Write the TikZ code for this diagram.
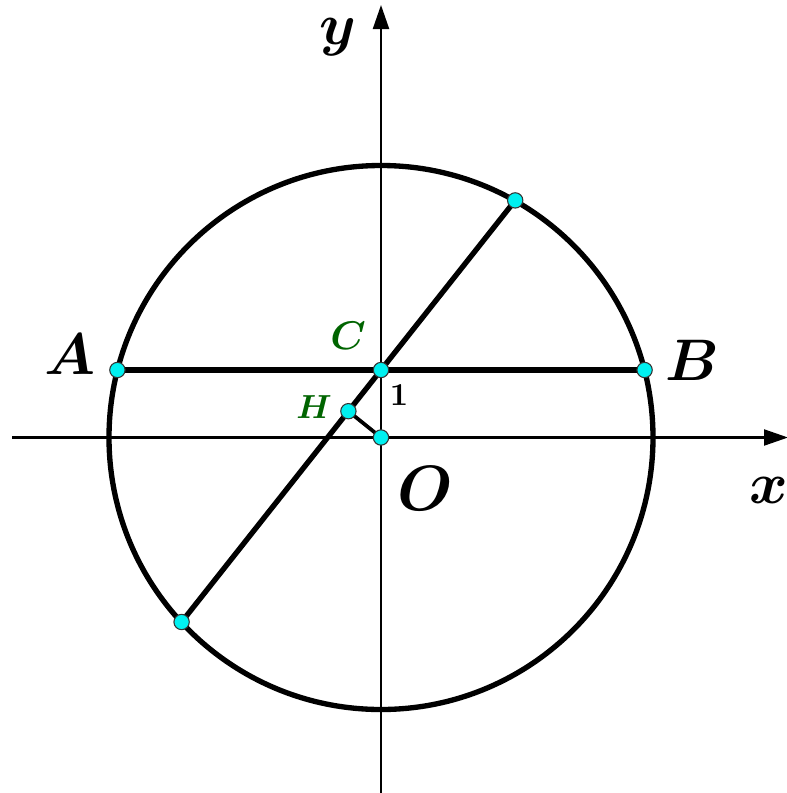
\documentclass[tikz,border=0pt]{standalone}
\usepackage{amsmath,bm}
\usetikzlibrary{arrows.meta,calc,intersections}
\definecolor{ptfill}{RGB}{0,240,240}
\definecolor{lblgreen}{RGB}{0,100,0}
\tikzset{
  axis/.style={line width=1.6pt,-{Triangle[length=18pt,width=12pt]}},
  thick line/.style={line width=4pt},
  pt/.style={circle,fill=ptfill,draw=black!80,line width=0.8pt,inner sep=0pt,minimum size=11.5pt},
  lbl/.style={inner sep=0pt},
  biglbl/.style={lbl,scale=4.4},
  grnlbl/.style={lbl,text=lblgreen},
}
\begin{document}
\begin{tikzpicture}[x=0.75pt,y=-0.75pt]
\useasboundingbox (0,0) rectangle (787,793);
\coordinate (Oc) at (381,437.5);
\coordinate (xs) at (12,437.5);
\coordinate (xe) at (788,437.5);
\coordinate (ys) at (381,793);
\coordinate (ye) at (381,5);
\draw[axis] (xs) -- (xe);
\draw[axis] (ys) -- (ye);
\draw[thick line] (Oc) circle[radius=272];
\coordinate (Ac) at (117.4,370);
\coordinate (Bc) at (644.6,370);
\coordinate (Cc) at (381,370);
\coordinate (Pc) at (515.2,200.4);
\coordinate (Qc) at (181.6,622);
\coordinate (Hc) at (348.4,411.2);
\draw[thick line] (Ac) -- (Bc);
\draw[thick line] (Qc) -- (Pc);
\draw[line width=2.8pt] (Hc) -- (Oc);
\node[pt] (A) at (Ac) {};
\node[pt] (B) at (Bc) {};
\node[pt] (C) at (Cc) {};
\node[pt] (P) at (Pc) {};
\node[pt] (Q) at (Qc) {};
\node[pt] (H) at (Hc) {};
\node[pt] (O) at (Oc) {};
\node[biglbl] (lA) at (70,354) {$\bm{A}$};
\node[biglbl] (lB) at (692,360) {$\bm{B}$};
\node[lbl,scale=4.8] (lO) at (425,489) {$\bm{O}$};
\node[biglbl] (lx) at (769,490) {$\bm{x}$};
\node[biglbl] (ly) at (338,37) {$\bm{y}$};
\node[grnlbl,scale=3.0] (lC) at (348,336) {$\bm{C}$};
\node[grnlbl,scale=2.5] (lH) at (314,407) {$\bm{H}$};
\node[lbl,scale=2.4] (l1) at (399,395) {$\mathbf{1}$};
\end{tikzpicture}
\end{document}
